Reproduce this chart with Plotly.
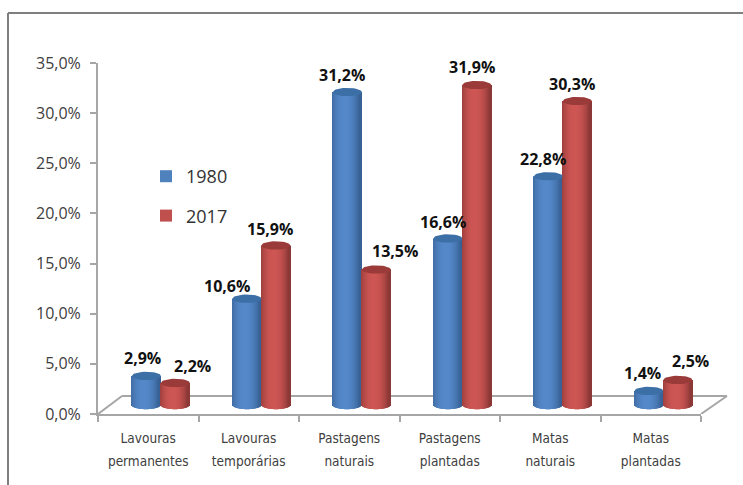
import math
import plotly.graph_objects as go

categories = [["Lavouras", "permanentes"], ["Lavouras", "temporárias"], ["Pastagens", "naturais"],
              ["Pastagens", "plantadas"], ["Matas", "naturais"], ["Matas", "plantadas"]]
values_1980 = [2.9, 10.6, 31.2, 16.6, 22.8, 1.4]
values_2017 = [2.2, 15.9, 13.5, 31.9, 30.3, 2.5]
y_ticks = [0, 5, 10, 15, 20, 25, 30, 35]
y_tick_labels = ["0,0%", "5,0%", "10,0%", "15,0%", "20,0%", "25,0%", "30,0%", "35,0%"]

# pseudo-3D styling (axis units)
FLOOR = 0.9      # cylinder base sits on the floor, above the axis zero
CAP = 0.42       # semi-minor axis of the elliptical caps
HALF = 0.144     # cylinder radius
SHIFT = 0.125    # perspective shift of the pair
N = 29
GREY = "#a6a6a6"

def mix(a, b, t):
    return "#" + "".join(f"{round(a[i] + (b[i] - a[i]) * t):02x}" for i in range(3))

series = [
    dict(name="1980", vals=values_1980, off=-HALF, swatch="#4f81bd",
         edge=(56, 98, 150), mid=(84, 136, 201), cap="#3c6fa6"),
    dict(name="2017", vals=values_2017, off=HALF, swatch="#c0504d",
         edge=(140, 56, 54), mid=(205, 86, 83), cap="#9a3b39"),
]

fig = go.Figure()
sw = 2 * HALF / N
for s in series:
    centers = [i + 0.5 + SHIFT + s["off"] for i in range(6)]
    for j in range(N):
        u = -1 + (j + 0.5) * 2 / N
        h = math.sqrt(max(0, 1 - u * u))
        t = max(0, 1 - abs(u + 0.12) ** 2.2)
        fig.add_trace(go.Bar(
            x=[c + u * HALF for c in centers],
            base=[FLOOR - CAP * h] * 6,
            y=[v + CAP * h for v in s["vals"]],
            width=sw * 1.05,
            marker=dict(color=mix(s["edge"], s["mid"], t), line_width=0),
            showlegend=False, hoverinfo="skip"))

# elliptical caps
for s in series:
    xs, ys = [], []
    for i, v in enumerate(s["vals"]):
        c = i + 0.5 + SHIFT + s["off"]
        for k in range(41):
            a = 2 * math.pi * k / 40
            xs.append(c + HALF * math.cos(a))
            ys.append(FLOOR + v + CAP * math.sin(a))
        xs.append(None)
        ys.append(None)
    fig.add_trace(go.Scatter(x=xs, y=ys, mode="lines", fill="toself", fillcolor=s["cap"],
                             line=dict(width=0, color=s["cap"]), showlegend=False,
                             hoverinfo="skip", cliponaxis=False))

# legend entries
for s in series:
    fig.add_trace(go.Bar(x=[None], y=[None], name=s["name"], legendgroup=s["name"],
                         marker=dict(color=s["swatch"], line_width=0)))

# data labels
dx_1980 = [-4, -20, -5, -5, -5, -6]
dx_2017 = [17, -6, 19, -5, -5, 13]
dy_1980 = [18, 13, 17, 17, 17, 18]
dy_2017 = [17, 17, 19, 18, 17, 19]
for s, dxs, dys in zip(series, (dx_1980, dx_2017), (dy_1980, dy_2017)):
    for i, v in enumerate(s["vals"]):
        fig.add_annotation(x=i + 0.5 + SHIFT + s["off"], y=FLOOR + v, xref="x", yref="y",
                           text=f"{v:.1f}".replace(".", ",") + "%", showarrow=False,
                           xshift=dxs[i], yshift=dys[i],
                           font=dict(family="Open Sans", size=16, color="#111111", weight="bold"))

W, H, L, R, T, B = 743, 485, 98, 42, 63, 71
pw, ph = W - L - R, H - T - B
BACK = 1.8       # floor depth, in y units
px = lambda p: (p - L) / pw
py = lambda p: (H - B - p) / ph
floor_line = dict(color=GREY, width=2)
frame = dict(color="#7f7f7f", width=2)
shapes = [
    dict(type="line", xref="paper", yref="y", x0=px(98), y0=0, x1=px(122), y1=BACK, line=floor_line, layer="below"),
    dict(type="line", xref="paper", yref="y", x0=px(122), y0=BACK, x1=px(727), y1=BACK, line=floor_line, layer="below"),
    dict(type="line", xref="paper", yref="y", x0=px(701), y0=0, x1=px(727), y1=BACK, line=floor_line, layer="below"),
    dict(type="line", xref="paper", yref="paper", x0=px(8), x1=px(8), y0=py(H), y1=py(13), line=frame),
    dict(type="line", xref="paper", yref="paper", x0=px(8), x1=px(W), y0=py(13), y1=py(13), line=frame),
]

# the large tick font sets the wide line spacing; the span sets the visible glyph size
tick_text = ["<br>".join(f'<span style="font-size:13.5px">{w}</span>' for w in c) for c in categories]

fig.update_layout(
    width=W, height=H, margin=dict(l=L, r=R, t=T, b=B), autosize=False,
    paper_bgcolor="white", plot_bgcolor="white", barmode="overlay", separators=",.",
    shapes=shapes,
    legend=dict(x=px(146), y=py(158), xanchor="left", yanchor="top",
                bgcolor="rgba(0,0,0,0)", tracegroupgap=13,
                font=dict(family="Open Sans", size=18, color="#333333")),
    xaxis=dict(range=[0, 6], tickmode="array", tickvals=[i + 0.5 for i in range(6)],
               ticktext=tick_text, ticks="", showgrid=False, zeroline=False,
               showline=True, linecolor=GREY, linewidth=2, ticklabelstandoff=5,
               tickangle=0,
               tickfont=dict(family="DejaVu Sans Condensed, Roboto", size=18, color="#404040"),
               minor=dict(tickmode="array", tickvals=list(range(7)), ticks="outside",
                          ticklen=6, tickcolor=GREY, tickwidth=2, showgrid=False)),
    yaxis=dict(range=[0, 35], tickmode="array", tickvals=y_ticks, ticktext=y_tick_labels,
               ticks="outside", ticklen=6, tickcolor=GREY, tickwidth=2, ticklabelstandoff=6,
               showgrid=False, zeroline=False, showline=True, linecolor=GREY, linewidth=2,
               tickfont=dict(family="Open Sans", size=16, color="#404040")),
)
fig.write_html("out.html", config={"displayModeBar": False},
               post_script="document.body.style.margin='0';")
